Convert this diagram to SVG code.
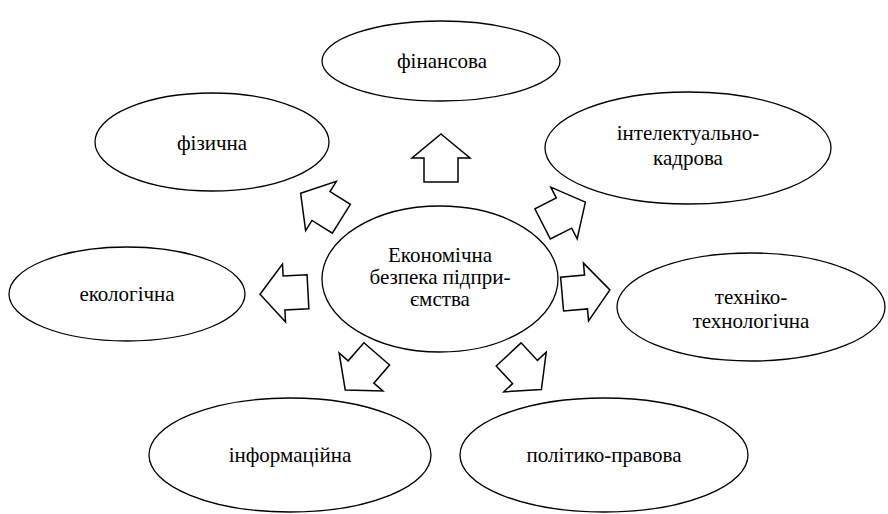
<svg xmlns="http://www.w3.org/2000/svg" xmlns:xlink="http://www.w3.org/1999/xlink" width="888" height="514" viewBox="0 0 888 514">
<style>
.n{fill:#fff;stroke:#000;stroke-width:1.3}
.a{fill:#fff;stroke:#000;stroke-width:1.5;stroke-linejoin:miter}
text{font-family:"Liberation Serif","Times New Roman",serif;font-size:21px;fill:#000;text-anchor:middle}
</style>
<defs>
<polygon id="arr" class="a" points="0,-24 29,0 17,0 17,24 -17,24 -17,0 -29,0"/>
</defs>
<rect width="888" height="514" fill="#fff"/>
<g id="connectors">
<use xlink:href="#arr" transform="translate(441,158)"/>
<use xlink:href="#arr" transform="translate(321,206) rotate(-58)"/>
<use xlink:href="#arr" transform="translate(564,213) rotate(63)"/>
<use xlink:href="#arr" transform="translate(284,293) rotate(-93)"/>
<use xlink:href="#arr" transform="translate(586,292) rotate(85)"/>
<use xlink:href="#arr" transform="translate(361,372) rotate(-139)"/>
<use xlink:href="#arr" transform="translate(525,372) rotate(137)"/>
</g>
<g id="center"><ellipse class="n" cx="440" cy="279" rx="118" ry="73"/>
<text x="440" y="262">Економічна</text><text x="440" y="284">безпека підпри-</text><text x="440" y="306">ємства</text></g>
<g id="finansova"><ellipse class="n" cx="441" cy="61" rx="119" ry="40"/><text x="442" y="68">фінансова</text></g>
<g id="fizychna"><ellipse class="n" cx="212" cy="142" rx="117" ry="49"/><text x="212" y="150">фізична</text></g>
<g id="intelekt"><ellipse class="n" cx="688" cy="148" rx="143" ry="56"/><text x="688" y="140">інтелектуально-</text><text x="688" y="165">кадрова</text></g>
<g id="ekologichna"><ellipse class="n" cx="127" cy="294" rx="118" ry="47"/><text x="127" y="301">екологічна</text></g>
<g id="tekhniko"><ellipse class="n" cx="751" cy="307" rx="134" ry="54"/><text x="751" y="304">техніко-</text><text x="751" y="328">технологічна</text></g>
<g id="informatsiina"><ellipse class="n" cx="290" cy="455" rx="141" ry="57"/><text x="290" y="462">інформаційна</text></g>
<g id="polityko"><ellipse class="n" cx="604" cy="455" rx="144" ry="57"/><text x="604" y="462">політико-правова</text></g>
</svg>
